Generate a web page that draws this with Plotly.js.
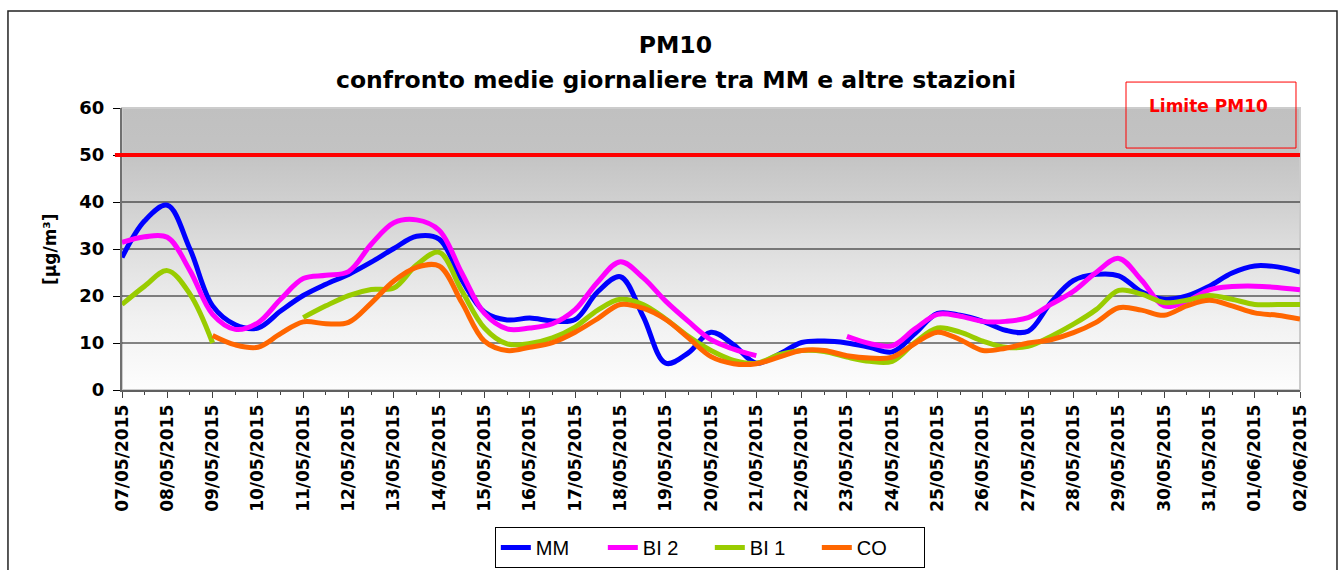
<!DOCTYPE html>
<html><head><meta charset="utf-8">
<script src="https://cdn.plot.ly/plotly-3.0.1.min.js"></script>
<style>
html,body{margin:0;padding:0;background:#fff;}
#chart{width:1340px;height:570px;}
</style></head><body><div id="chart"></div><script>
// Tick labels (one per day); data are sampled every half day
const days = ['07/05/2015','08/05/2015','09/05/2015','10/05/2015','11/05/2015','12/05/2015','13/05/2015',
  '14/05/2015','15/05/2015','16/05/2015','17/05/2015','18/05/2015','19/05/2015','20/05/2015','21/05/2015',
  '22/05/2015','23/05/2015','24/05/2015','25/05/2015','26/05/2015','27/05/2015','28/05/2015','29/05/2015',
  '30/05/2015','31/05/2015','01/06/2015','02/06/2015'];

const titleText = 'PM10';
const subtitleText = 'confronto medie giornaliere tra MM e altre stazioni';
const yTitle = '[µg/m³]';
const seriesNames = ['MM','BI 2','BI 1','CO'];
const MM  = [28.2,36,39.3,30,17.9,13.9,13.2,16.8,20.1,22.5,24.6,27.2,30.1,32.7,32.1,23.4,16.6,14.9,15.3,14.7,15,
  20.9,24.1,15.7,5.7,7.9,12.3,9.6,5.7,7.6,10.1,10.4,10,9.1,8.1,12,16.3,15.9,14.6,12.7,12.5,18.6,23.3,24.6,24.3,
  20.9,19.3,20,22.1,24.9,26.4,26.2,25.1];
const BI2 = [31.4,32.6,32.5,25.4,16.1,12.9,14.3,19.3,23.7,24.4,25.2,31,35.6,36.2,34,24.9,16.3,13,13.2,14.1,17.1,
  23,27.3,23.9,18.9,14.6,10.7,8.7,7.3,null,null,null,11.4,9.9,9.4,13,16.1,15.7,14.6,14.6,15.4,18.2,21,25,28,
  23.4,17.9,18.9,21.3,22,22.1,21.8,21.3];
const BI1 = [18.2,22.1,25.4,20.4,10,null,null,null,15.4,17.9,20.1,21.4,21.7,26.6,29.3,21.1,13.2,9.8,9.9,11.1,13.4,
  17,19.3,18.2,15.1,11.4,8.4,6.3,5.7,7.5,8.4,8.2,7,6.1,6.1,10.1,13.2,12.3,10.4,9.1,9.3,11.4,14,17.1,21.2,
  20.4,18.6,19.1,20.1,19.3,18.2,18.2,18.2];
const CO  = [null,null,null,null,11.6,9.6,9.1,12,14.5,14.1,14.4,18.5,23.2,26.1,26.4,18.6,10.4,8.4,9.1,10.1,12.3,
  15.2,18.2,17.4,15,11.1,7.1,5.6,5.6,7,8.4,8.4,7.3,6.8,7,9.9,12.3,10.7,8.4,8.9,10,10.7,12.2,14.4,17.5,
  17,15.9,17.9,19.1,17.9,16.4,15.9,15.1];
const limitValue = 50;
const limitLabel = 'Limite PM10';
const yTicks = [0,10,20,30,40,50,60];

const colors = ['#0000ff','#ff00ff','#99cc00','#ff6600'];

function iso(d){ const p = d.split('/'); return p[2]+'-'+p[1]+'-'+p[0]; }
const tickDates = days.map(iso);
const xs = [];
days.forEach((d,k)=>{ xs.push(iso(d)); if(k<days.length-1) xs.push(iso(d)+' 12:00'); });

const all = [MM,BI2,BI1,CO];
const traces = all.map((vals,k)=>({
  type:'scatter', mode:'lines', name:seriesNames[k], x:xs, y:vals,
  line:{color:colors[k], width:5, shape:'spline', smoothing:1}, connectgaps:false
}));

const gradSvg = "<svg xmlns='http://www.w3.org/2000/svg' width='10' height='100' viewBox='0 0 10 100' preserveAspectRatio='none'>"+
 "<defs><linearGradient id='g' x1='0' y1='0' x2='0' y2='1'>"+
 "<stop offset='0' stop-color='#c0c0c0'/><stop offset='0.16' stop-color='#c3c3c3'/>"+
 "<stop offset='0.35' stop-color='#d1d1d1'/><stop offset='0.55' stop-color='#e2e2e2'/>"+
 "<stop offset='0.75' stop-color='#f1f1f1'/><stop offset='1' stop-color='#fdfdfd'/></linearGradient></defs>"+
 "<rect width='10' height='100' fill='url(#g)'/></svg>";
const gradUrl = 'data:image/svg+xml;charset=utf-8,' + encodeURIComponent(gradSvg);

const shapes = [];
shapes.push({type:'rect', xref:'paper', yref:'paper', x0:-0.0968, x1:1.0314, y0:-0.66, y1:1.344,
  line:{color:'#222', width:1.5}, fillcolor:'rgba(0,0,0,0)', layer:'below'});
shapes.push({type:'rect', xref:'paper', yref:'paper', x0:0, x1:1, y0:0, y1:1,
  line:{color:'#cccccc', width:2}, fillcolor:'rgba(0,0,0,0)', layer:'below'});
yTicks.filter(v=>v>0 && v<60).forEach(v=>shapes.push({type:'line', xref:'paper', yref:'y', x0:0, x1:1, y0:v, y1:v,
  line:{color:'#111', width:1}, layer:'below'}));
shapes.push({type:'line', xref:'paper', yref:'y', x0:-0.006, x1:1, y0:limitValue, y1:limitValue,
  line:{color:'#ff0000', width:4}, layer:'above'});
shapes.push({type:'rect', xref:'paper', yref:'paper', x0:0.8523, x1:0.9966, y0:0.858, y1:1.092,
  line:{color:'#ff0000', width:1}, fillcolor:'rgba(0,0,0,0)'});

const boldFont = (s,c)=>({family:'DejaVu Sans', size:s, weight:'bold', color:c||'#000'});

const layout = {
  width:1340, height:570,
  margin:{l:122, r:40, t:108, b:180, autoexpand:false},
  paper_bgcolor:'#ffffff', plot_bgcolor:'rgba(0,0,0,0)',
  font:{family:'DejaVu Sans', color:'#000'},
  title:{text:titleText, x:0.504, xanchor:'center', xref:'container',
    y:1-45/570, yanchor:'middle', yref:'container', font:boldFont(23.5)},
  showlegend:true,
  legend:{orientation:'h', x:0.499, xanchor:'center', y:(390-527)/282, yanchor:'top',
    bordercolor:'#000', borderwidth:1, bgcolor:'#fff', entrywidth:62, entrywidthmode:'pixels',
    font:{family:'Liberation Sans', size:20, color:'#000'}, traceorder:'normal'},
  xaxis:{type:'date', range:[tickDates[0], tickDates[tickDates.length-1]],
    tickmode:'array', tickvals:tickDates, ticktext:days, tickangle:-90,
    tickfont:boldFont(17),
    ticks:'outside', ticklen:6, tickcolor:'#404040', tickwidth:1,
    minor:{ticks:'outside', ticklen:3, tickcolor:'#404040', dtick:43200000, tick0:tickDates[0], showgrid:false},
    showline:true, linecolor:'#606060', linewidth:2, showgrid:false, zeroline:false, fixedrange:true},
  yaxis:{range:[0,60], tickmode:'array', tickvals:yTicks, ticks:'outside', ticklen:7, tickcolor:'#000',
    tickfont:boldFont(18), ticklabelstandoff:5,
    showline:true, linecolor:'#707070', linewidth:2, showgrid:false, zeroline:false},
  images:[{source:gradUrl, xref:'paper', yref:'paper', x:0, y:1, sizex:1, sizey:1, sizing:'stretch',
    xanchor:'left', yanchor:'top', layer:'below'}],
  shapes:shapes,
  annotations:[
    {text:subtitleText, xref:'paper', yref:'paper', x:(676-122)/1178, y:(390-80)/282, xanchor:'center', yanchor:'middle',
      showarrow:false, font:boldFont(23.5)},
    {text:yTitle, xref:'paper', yref:'y', x:(50-122)/1178, y:30, xanchor:'center', yanchor:'middle', textangle:-90,
      showarrow:false, font:boldFont(17)},
    {text:limitLabel, xref:'paper', yref:'paper', x:0.922, y:1.007, xanchor:'center', yanchor:'middle',
      showarrow:false, font:boldFont(17,'#ff0000')}]
};

Plotly.newPlot('chart', traces, layout, {displayModeBar:false, staticPlot:true});
</script></body></html>
